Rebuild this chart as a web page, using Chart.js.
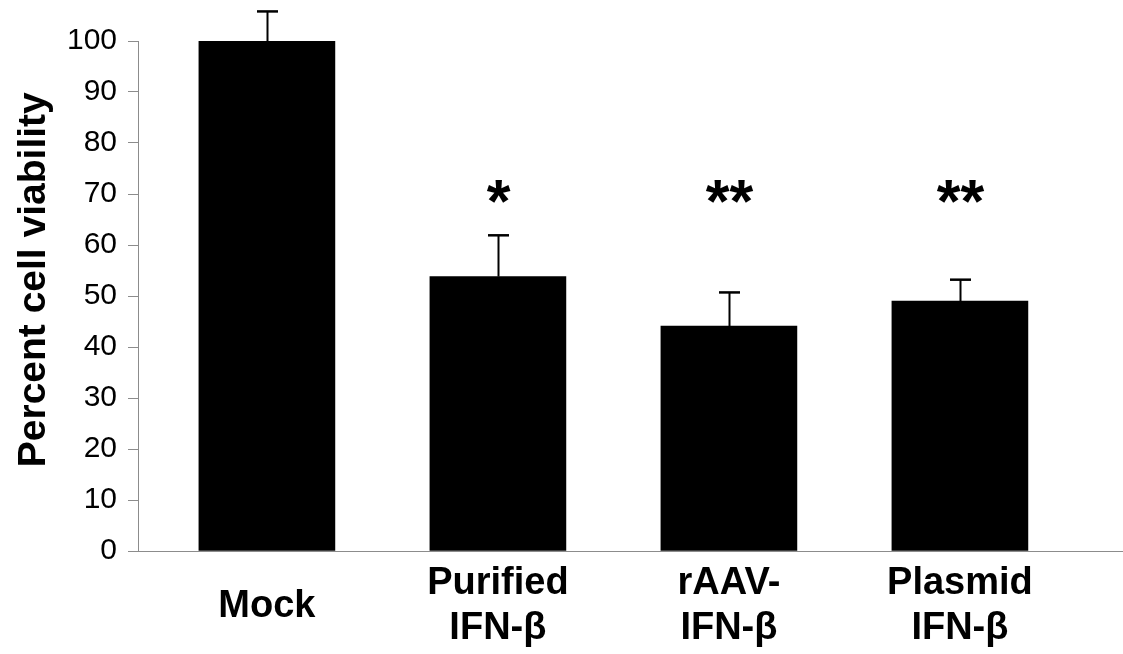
<!DOCTYPE html>
<html>
<head>
<meta charset="utf-8">
<script src="https://cdn.jsdelivr.net/npm/chart.js@4/dist/chart.umd.min.js"></script>
<style>
  html, body { margin: 0; padding: 0; background: #fff; }
  #wrap { width: 1123px; height: 654px; }
</style>
</head>
<body>
<div id="wrap"><canvas id="viabilityChart"></canvas></div>
<script>
// values
var categories = [['Mock'], ['Purified', 'IFN-\u03B2'], ['rAAV-', 'IFN-\u03B2'], ['Plasmid', 'IFN-\u03B2']];
var viability = [100, 53.8, 44.1, 49.0];
var errorUp = [5.8, 8.1, 6.6, 4.2];
var significance = ['', '*', '**', '**'];
var yTickValues = [0, 10, 20, 30, 40, 50, 60, 70, 80, 90, 100];

var STAR_LEVEL = 70.4;      // height of the asterisks, in axis units
var XMIN = -0.558, XMAX = 3.706;
var FONT = "'Liberation Sans', Arial, sans-serif";
var AXIS_GREY = '#8c8c8c';

var points = viability.map(function (v, i) { return { x: i, y: v }; });

// error bars and significance marks
const errorBars = {
    id: 'errorBars',
    afterDatasetsDraw(chart) {
        const c = chart.ctx;
        const xs = chart.scales.x, ys = chart.scales.y;
        c.save();
        c.strokeStyle = '#000';
        c.fillStyle = '#000';
        for (var i = 0; i < viability.length; i++) {
            var px = Math.round(xs.getPixelForValue(i)) + 0.5;
            var yBar = ys.getPixelForValue(viability[i]);
            var yTop = ys.getPixelForValue(viability[i] + errorUp[i]);
            c.lineWidth = 2;
            c.beginPath();
            c.moveTo(px, yBar);
            c.lineTo(px, yTop);
            c.stroke();
            c.lineWidth = 2.5;
            c.beginPath();
            c.moveTo(px - 10.5, yTop);
            c.lineTo(px + 10.5, yTop);
            c.stroke();

            if (significance[i]) {
                c.font = 'bold 61px ' + FONT;
                c.textAlign = 'center';
                c.textBaseline = 'alphabetic';
                var m = c.measureText(significance[i]);
                var cy = ys.getPixelForValue(STAR_LEVEL);
                var off = (m.actualBoundingBoxAscent - m.actualBoundingBoxDescent) / 2;
                c.fillText(significance[i], px, cy + off);
            }
        }
        c.restore();
    }
};

const ctx = document.getElementById('viabilityChart');
const myChart = new Chart(ctx, {
    type: 'bar',
    data: {
        datasets: [{
            data: points,
            backgroundColor: '#000',
            borderWidth: 0,
            barThickness: 136
        }]
    },
    options: {
        responsive: true,
        maintainAspectRatio: false,
        animation: false,
        layout: { padding: { top: 41, left: 0, right: 0, bottom: 0 } },
        plugins: {
            legend: { display: false },
            tooltip: { enabled: false }
        },
        scales: {
            x: {
                type: 'linear',
                offset: false,
                min: XMIN,
                max: XMAX,
                afterFit: function (scale) { scale.height = 103; },
                afterBuildTicks: function (scale) {
                    var t = [{ value: XMIN }];
                    categories.forEach(function (c, i) { t.push({ value: i }); });
                    scale.ticks = t;
                },
                border: { display: true, color: AXIS_GREY, width: 1 },
                grid: {
                    display: true,
                    drawOnChartArea: false,
                    drawTicks: true,
                    tickLength: 9,
                    color: function (c) {
                        return (c.tick && c.tick.value === XMIN) ? AXIS_GREY : 'rgba(0,0,0,0)';
                    }
                },
                ticks: {
                    autoSkip: false,
                    maxRotation: 0,
                    padding: 24,
                    crossAlign: 'center',
                    color: '#000',
                    font: { family: FONT, size: 38, weight: 'bold', lineHeight: 1.16 },
                    callback: function (value) {
                        return Number.isInteger(value) ? categories[value] : '';
                    }
                }
            },
            y: {
                min: 0,
                max: 100,
                afterFit: function (scale) { scale.width = 138; },
                afterBuildTicks: function (scale) {
                    scale.ticks = yTickValues.map(function (v) { return { value: v }; });
                },
                border: { display: true, color: AXIS_GREY, width: 1 },
                grid: {
                    display: true,
                    drawOnChartArea: false,
                    drawTicks: true,
                    tickLength: 10,
                    color: AXIS_GREY
                },
                ticks: {
                    padding: 11,
                    color: '#000',
                    font: { family: FONT, size: 30 }
                },
                title: {
                    display: true,
                    // leading spaces nudge the rotated title upward, as in the figure
                    text: '   Percent cell viability',
                    color: '#000',
                    padding: { top: 11, bottom: 0 },
                    font: { family: FONT, size: 39, weight: 'bold', lineHeight: 1.2 }
                }
            }
        }
    },
    plugins: [errorBars]
});
</script>
</body>
</html>
